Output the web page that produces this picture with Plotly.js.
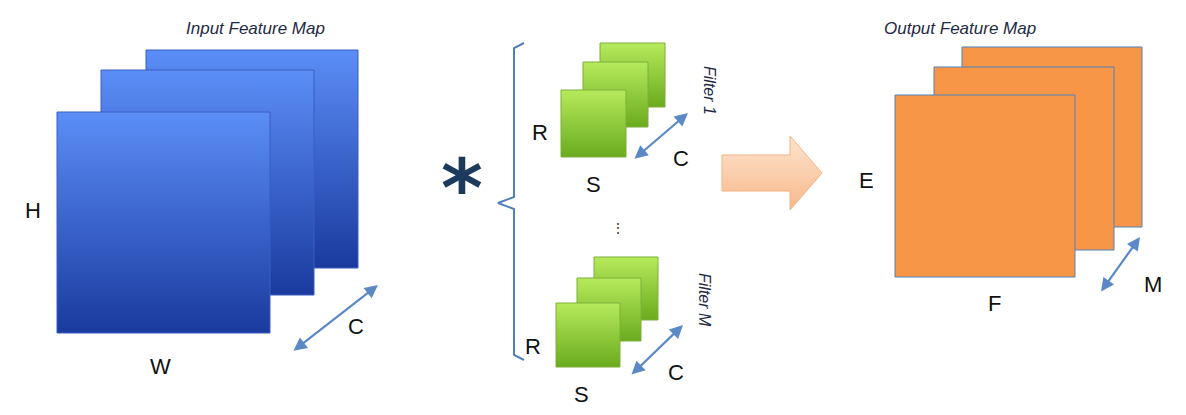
<!DOCTYPE html>
<html><head><meta charset="utf-8">
<script src="https://cdn.plot.ly/plotly-3.0.1.min.js"></script>
<style>body{margin:0;background:#fff}#c{width:1186px;height:415px}</style>
</head><body><div id="c"></div>
<script>
// Diagram content
const inputLayers  = [[146,358,50,268],[101,314,70,295],[57,270,112,333]];
const filter1Layers= [[600,665,43,107],[583,648,62,127],[561,626,90,157]];
const filterMLayers= [[594,658,257,320],[577,641,278,341],[556,620,303,367]];
const outputLayers = [[962,1142,47,227],[934,1114,67,250],[895,1075,95,277]];
const labels = [
  {t:"H",x:33,y:210},{t:"W",x:160,y:366},{t:"C",x:356,y:326},
  {t:"R",x:540,y:132},{t:"S",x:593,y:184},{t:"C",x:681,y:158},
  {t:"R",x:533,y:346},{t:"S",x:581,y:394},{t:"C",x:676,y:372},
  {t:"E",x:866,y:180},{t:"F",x:994,y:303},{t:"M",x:1153,y:284}
];
const titles = [{t:"Input Feature Map",x:255,y:28},{t:"Output Feature Map",x:960,y:28}];
const rotTitles = [{t:"Filter 1",x:710,y:90},{t:"Filter M",x:705,y:300}];
const arrows = [[292,352,378,285],[633,160,688,113],[630,376,683,325],[1100,293,1140,237]];

const traces=[];
function box(l,light,dark,line){
  const [x0,x1,y0,y1]=l;
  traces.push({type:'scatter',mode:'lines',x:[x0,x1,x1,x0,x0],y:[y0,y0,y1,y1,y0],
    fill:'toself',line:{color:line,width:1},hoverinfo:'skip',
    fillgradient:{type:'vertical',start:y0,stop:y1,colorscale:[[0,light],[1,dark]]}});
}
inputLayers.forEach(l=>box(l,'#5b8ef7','#1a3a9e','#3a5fc0'));
filter1Layers.forEach(l=>box(l,'#b6ea5c','#6aab1e','#7fae3a'));
filterMLayers.forEach(l=>box(l,'#b6ea5c','#6aab1e','#7fae3a'));
outputLayers.forEach(l=>box(l,'#f79646','#f79646','#4f81bd'));
// big arrow
traces.push({type:'scatter',mode:'lines',
  x:[722,790,790,822,790,790,722,722],y:[155,155,136,173,210,191,191,155],
  fill:'toself',line:{color:'#f4b183',width:1},hoverinfo:'skip',
  fillgradient:{type:'vertical',start:136,stop:210,colorscale:[[0,'#fde4d0'],[1,'#f8b98a']]}});
// bracket
traces.push({type:'scatter',mode:'lines',
  x:[524,514,514,498,514,514,524],y:[43,48,197,203,209,355,360],
  line:{color:'#4f7fbd',width:2},hoverinfo:'skip'});

const ann=[];
labels.forEach(l=>ann.push({x:l.x,y:l.y,text:l.t,showarrow:false,font:{family:'Liberation Sans',size:22,color:'#111'}}));
titles.forEach(l=>ann.push({x:l.x,y:l.y,text:'<i>'+l.t+'</i>',showarrow:false,font:{family:'Liberation Sans',size:17,color:'#1f2a44'}}));
rotTitles.forEach(l=>ann.push({x:l.x,y:l.y,text:'<i>'+l.t+'</i>',textangle:90,showarrow:false,font:{family:'Liberation Sans',size:16,color:'#1f2a44'}}));
ann.push({x:462,y:188,text:'<b>*</b>',showarrow:false,font:{family:'DejaVu Sans',size:80,color:'#1c3a5e'}});
ann.push({x:618,y:227,text:'⋮',showarrow:false,font:{size:14,color:'#333'}});
arrows.forEach(a=>ann.push({x:a[2],y:a[3],ax:a[0],ay:a[1],axref:'x',ayref:'y',xref:'x',yref:'y',text:'',
  showarrow:true,arrowhead:2,startarrowhead:2,arrowside:'end+start',arrowsize:1.2,arrowwidth:2.2,arrowcolor:'#5a89c6'}));

Plotly.newPlot('c',traces,{width:1186,height:415,margin:{l:0,r:0,t:0,b:0},showlegend:false,
  paper_bgcolor:'#fff',plot_bgcolor:'#fff',
  xaxis:{range:[0,1186],visible:false,fixedrange:true},
  yaxis:{range:[415,0],visible:false,fixedrange:true},
  annotations:ann},{staticPlot:true});
</script></body></html>
